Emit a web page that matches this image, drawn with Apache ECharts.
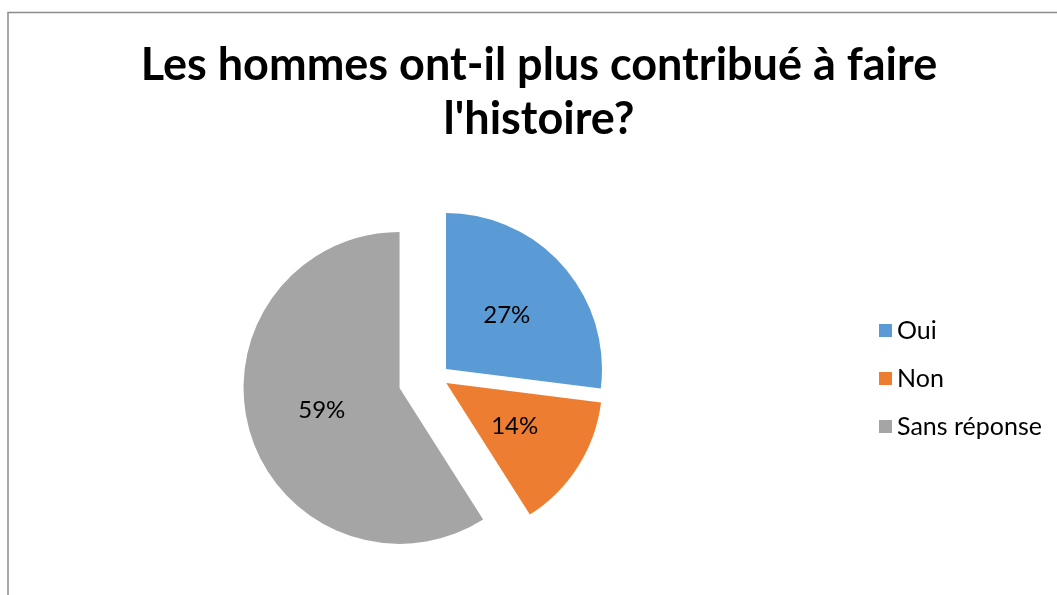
<!DOCTYPE html>
<html><head><meta charset="utf-8">
<script src="https://cdn.jsdelivr.net/npm/echarts@6/dist/echarts.min.js"></script>
<style>html,body{margin:0;padding:0;background:#fff}#c{width:1057px;height:595px}</style>
</head><body><div id="c"></div>
<script>
const categories = ['Oui', 'Non', 'Sans réponse'];
const values = [27, 14, 59];
const colors = ['#5B9BD5', '#ED7D31', '#A5A5A5'];
const explode = [12, 11, 39];
const titleText = "Les hommes ont-il plus contribué à faire\nl'histoire?";

const FONT = 'Lato';
const center = [437, 377];
const radius = 156;

const series = categories.map((name, k) => ({
  type: 'pie',
  center: center,
  radius: radius,
  startAngle: 90,
  clockwise: true,
  selectedMode: 'single',
  selectedOffset: explode[k],
  silent: true,
  animation: false,
  percentPrecision: 0,
  label: {
    position: 'inside',
    formatter: '{d}%',
    color: '#000',
    fontFamily: FONT,
    fontSize: 24
  },
  labelLine: { show: false },
  emphasis: { disabled: true },
  select: { itemStyle: { borderWidth: 0 } },
  data: categories.map((n, i) => ({
    name: n,
    value: values[i],
    selected: i === k,
    itemStyle: { color: i === k ? colors[i] : 'rgba(0,0,0,0)', borderWidth: 0 },
    label: { show: i === k }
  }))
}));

const chart = echarts.init(document.getElementById('c'), null, { renderer: 'canvas' });
chart.setOption({
  backgroundColor: '#fff',
  animation: false,
  title: {
    text: titleText,
    left: 539,
    top: 38,
    padding: 0,
    textAlign: 'center',
    textStyle: { fontFamily: FONT, fontWeight: 'bold', fontSize: 45, lineHeight: 54, color: '#000' }
  },
  legend: {
    orient: 'vertical',
    left: 874,
    top: 313,
    itemWidth: 13,
    itemHeight: 13,
    itemGap: 23,
    icon: 'rect',
    selectedMode: false,
    textStyle: { fontFamily: FONT, fontSize: 25, lineHeight: 25, color: '#000' },
    data: categories.map((n, i) => ({ name: n, itemStyle: { color: colors[i] } }))
  },
  graphic: [
    { type: 'polyline', shape: { points: [[8, 595], [8, 12.5], [1057, 12.5]] }, style: { stroke: '#8c8c8c', lineWidth: 1.5, fill: null } }
  ],
  series: series
});
</script></body></html>
